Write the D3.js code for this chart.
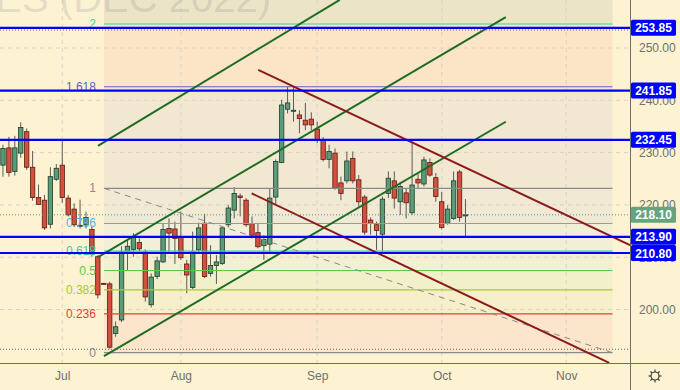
<!DOCTYPE html>
<html>
<head>
<meta charset="utf-8">
<script src="https://cdn.jsdelivr.net/npm/d3@7"></script>
<style>
  body { margin: 0; background: #fdf3d3; }
  svg text { font-family: "Liberation Sans", Arial, sans-serif; }
</style>
</head>
<body>
<svg id="chart" width="680" height="390"></svg>
<script>
// bar index 0 = Jul 1 (trading days), first bar = Jun 16
var firstIndex = -10;
var opens  = [227.6,230.9,226.4,229.9,234.0,227.2,221.4,220.9,216.3,224.9,
              227.6,221.3,219.2,216.0,216.2,215.3,210.1,205.0,204.9,195.4,
              198.0,210.9,211.5,212.8,211.0,200.9,206.3,209.1,215.5,215.4,
              213.9,208.7,204.2,211.4,216.5,206.9,208.4,208.8,216.2,219.0,
              221.7,220.9,216.4,214.7,212.2,212.5,221.5,228.1,238.3,237.9,
              237.2,236.2,236.4,234.5,232.4,228.7,229.9,224.2,224.6,228.9,
              224.8,221.5,217.1,216.2,214.4,222.2,224.6,220.6,222.3,218.5,
              224.9,224.0,228.1,225.2,220.6,216.5,217.4,226.3,217.9];
var highs  = [231.5,233.0,233.2,235.8,234.6,230.3,223.9,221.9,227.2,227.8,
              232.2,221.9,220.3,221.0,218.7,216.0,210.4,205.1,205.3,197.7,
              212.1,213.3,214.6,213.6,211.5,206.9,210.1,216.4,217.4,216.8,
              218.7,209.5,214.9,216.6,218.3,212.3,210.4,215.7,220.0,223.4,
              222.2,221.3,217.8,216.5,214.2,223.2,228.7,240.1,242.6,242.6,
              238.1,239.5,237.7,235.9,233.0,231.5,230.8,225.4,230.2,230.2,
              225.7,221.9,217.6,216.8,221.6,226.4,226.4,224.4,223.2,232.1,
              226.0,229.2,228.9,226.1,222.5,220.0,226.4,226.7,221.1];
var lows   = [225.4,225.4,225.6,229.0,226.7,220.8,220.0,215.2,215.5,224.6,
              220.4,217.8,215.8,215.5,215.5,210.1,202.1,204.8,192.5,194.8,
              197.6,207.5,210.1,210.8,201.5,200.4,205.8,208.9,210.9,208.7,
              209.5,203.1,203.9,211.0,206.0,206.3,204.9,208.5,215.7,217.4,
              217.8,215.8,213.6,211.7,209.5,211.0,220.2,228.0,237.5,235.9,
              233.7,234.3,234.3,231.8,228.3,227.0,222.9,220.9,224.1,224.1,
              219.7,214.3,214.3,211.4,211.0,221.3,219.3,218.1,217.4,218.1,
              223.2,223.5,225.4,220.6,215.3,216.2,217.1,216.8,213.9];
var closes = [230.8,226.2,230.9,234.8,227.2,221.4,220.1,215.6,225.4,227.0,
              221.4,218.1,216.2,216.1,217.6,210.6,202.8,204.9,192.8,196.7,
              211.0,212.1,213.9,211.6,202.4,206.2,209.3,215.3,214.6,213.6,
              209.9,206.6,211.0,215.6,206.3,208.4,209.1,215.6,219.4,222.2,
              221.4,216.2,214.2,212.0,213.4,221.3,228.3,239.1,239.5,238.1,
              236.5,235.3,235.3,232.5,228.7,230.2,223.2,222.2,228.4,224.6,
              220.6,214.8,216.5,215.1,221.1,225.1,221.3,223.5,220.4,223.8,
              224.2,228.6,225.7,221.6,215.7,219.2,224.6,217.6,218.1];

var monthTicks  = [0, 20, 43, 64, 85];
var monthLabels = ["Jul", "Aug", "Sep", "Oct", "Nov"];
var priceTicks  = [200, 210, 220, 230, 240, 250];

var levelPrices = [253.85, 241.85, 232.45, 213.90, 210.80];
var lastPrice = 218.10;
var dottedPrices = [253.44, 192.4];

// fib retracement: anchor 1 -> anchor 0
var fibLevels = [0, 0.236, 0.382, 0.5, 0.618, 0.786, 1, 1.618, 2];
var fibLabels = ["0", "0.236", "0.382", "0.5", "0.618", "0.786", "1", "1.618", "2"];
var fibStart = [7.03, 223.17];
var fibEnd   = [92.8, 191.74];

// trend lines [bar index, price]
var greenLines = [
  [[7.03, 191.1], [74.8, 235.9]],
  [[6.02, 210.0], [74.8, 255.9]],
  [[6.02, 231.3], [46.8, 259.2]]
];
var redLines = [
  [[33.05, 245.8], [95.75, 212.3]],
  [[31.94, 222.2], [92.24, 189.8]]
];

var W = 680, H = 390, plotW = 630, plotH = 363;
var svg = d3.select("#chart");

var x = d3.scaleLinear().domain([-10.5, 95.75]).range([0, plotW]);
var y = d3.scaleLinear().domain([200, 250]).range([309.5, 48]);

svg.append("rect").attr("width", W).attr("height", H).attr("fill", "#fdf3d3");

svg.append("clipPath").attr("id", "plot")
  .append("rect").attr("width", plotW).attr("height", plotH);

var plot = svg.append("g").attr("clip-path", "url(#plot)");

// fib bands
var fibColors = ["#8a8a8a", "#e0413a", "#a8c83a", "#5cc94a", "#2fcf9e", "#4fb3e8", "#8a8a8a", "#5c60c9", "#3ccf9a"];
var bandFills = ["#fbe6cb", "#f6efca", "#f2f0cb", "#f3f0d2", "#f1efd7", "#f1e9d3", "#f2e8d2", "#fbe5c6", "#ece4c7"];
var fibPrice = function (lv) { return fibEnd[1] + lv * (fibStart[1] - fibEnd[1]); };
var bandLevels = fibLevels.concat([2.618]);

var fx0 = x(fibStart[0]), fx1 = x(fibEnd[0]);
for (var k = 0; k < fibLevels.length; k++) {
  var yTop = y(fibPrice(bandLevels[k + 1])), yBot = y(fibPrice(bandLevels[k]));
  plot.append("rect")
    .attr("x", fx0).attr("width", fx1 - fx0)
    .attr("y", yTop).attr("height", yBot - yTop)
    .attr("fill", bandFills[k]);
}

// grid
plot.append("g").selectAll("line").data(priceTicks).enter().append("line")
  .attr("x1", 0).attr("x2", plotW)
  .attr("y1", function (d) { return y(d); }).attr("y2", function (d) { return y(d); })
  .attr("stroke", "#d9d5c6").attr("stroke-dasharray", "4,4");
plot.append("g").selectAll("line").data(monthTicks).enter().append("line")
  .attr("y1", 0).attr("y2", plotH)
  .attr("x1", function (d) { return x(d); }).attr("x2", function (d) { return x(d); })
  .attr("stroke", "#d9d5c6").attr("stroke-dasharray", "4,4");

// watermark
plot.append("text")
  .attr("x", 271).attr("y", 12)
  .attr("text-anchor", "end")
  .attr("font-size", 40)
  .attr("fill", "#787b86").attr("fill-opacity", 0.2)
  .text("COFFEE C FUTURES (DEC 2022)");

// candles
var bars = d3.range(opens.length).map(function (i) {
  return { i: firstIndex + i, o: opens[i], h: highs[i], l: lows[i], c: closes[i] };
});
var bw = 4.4;
var cg = plot.append("g");
cg.selectAll("line").data(bars).enter().append("line")
  .attr("x1", function (d) { return x(d.i); }).attr("x2", function (d) { return x(d.i); })
  .attr("y1", function (d) { return y(d.h); }).attr("y2", function (d) { return y(d.l); })
  .attr("stroke", "#5a5a5a").attr("stroke-width", 1);
cg.selectAll("rect").data(bars).enter().append("rect")
  .attr("x", function (d) { return x(d.i) - bw / 2; })
  .attr("width", bw)
  .attr("y", function (d) { return y(Math.max(d.o, d.c)); })
  .attr("height", function (d) { return Math.max(1, Math.abs(y(d.o) - y(d.c))); })
  .attr("fill", function (d) { return d.c >= d.o ? "#5b9c78" : "#d4503d"; })
  .attr("stroke", function (d) { return d.c >= d.o ? "#1e3d2c" : "#5a1b12"; })
  .attr("stroke-width", 0.8);

// fib level lines + labels
var fg = plot.append("g");
fibLevels.forEach(function (lv, k) {
  var yy = y(fibPrice(lv));
  fg.append("line")
    .attr("x1", fx0).attr("x2", fx1).attr("y1", yy).attr("y2", yy)
    .attr("stroke", k === 8 ? "#8fe0ad" : fibColors[k])
    .attr("stroke-width", k === 8 ? 2 : 1.2);
  fg.append("text")
    .attr("x", fx0 - 8).attr("y", yy + 4)
    .attr("text-anchor", "end").attr("font-size", 12)
    .attr("fill", fibColors[k])
    .text(fibLabels[k]);
});

var line = d3.line().x(function (d) { return x(d[0]); }).y(function (d) { return y(d[1]); });

plot.append("path").attr("d", line([fibStart, fibEnd]))
  .attr("fill", "none").attr("stroke", "#8a8a8a").attr("stroke-width", 1)
  .attr("stroke-dasharray", "6,5");

greenLines.forEach(function (l) {
  plot.append("path").attr("d", line(l))
    .attr("fill", "none").attr("stroke", "#1e6b22").attr("stroke-width", 2);
});
redLines.forEach(function (l) {
  plot.append("path").attr("d", line(l))
    .attr("fill", "none").attr("stroke", "#8b1a1a").attr("stroke-width", 2);
});

// dotted price lines
dottedPrices.forEach(function (p) {
  plot.append("line").attr("x1", 0).attr("x2", plotW).attr("y1", y(p)).attr("y2", y(p))
    .attr("stroke", "#666").attr("stroke-width", 1).attr("stroke-dasharray", "1,2");
});
plot.append("line").attr("x1", 0).attr("x2", plotW).attr("y1", y(lastPrice)).attr("y2", y(lastPrice))
  .attr("stroke", "#4f9a70").attr("stroke-width", 1).attr("stroke-dasharray", "1,2");

// horizontal levels
plot.selectAll(".lvl").data(levelPrices).enter().append("line")
  .attr("x1", 0).attr("x2", plotW)
  .attr("y1", function (d) { return y(d); }).attr("y2", function (d) { return y(d); })
  .attr("stroke", "#0000ff").attr("stroke-width", 2.2);

// axes
svg.append("line").attr("x1", plotW + 0.5).attr("x2", plotW + 0.5).attr("y1", 0).attr("y2", H)
  .attr("stroke", "#6e6e6e");
svg.append("line").attr("x1", 0).attr("x2", W).attr("y1", plotH + 0.5).attr("y2", plotH + 0.5)
  .attr("stroke", "#6e6e6e");

var yAxis = svg.append("g").attr("transform", "translate(" + plotW + ",0)")
  .call(d3.axisRight(y).tickValues(priceTicks).tickSize(0).tickPadding(9).tickFormat(d3.format(".2f")));
yAxis.select(".domain").remove();
yAxis.selectAll("text").attr("font-size", 12).attr("fill", "#6f6f6f")
  .style("font-family", "Liberation Sans, Arial, sans-serif");

var xAxis = svg.append("g").attr("transform", "translate(0," + plotH + ")")
  .call(d3.axisBottom(x).tickValues(monthTicks).tickSize(0).tickPadding(8)
    .tickFormat(function (d, i) { return monthLabels[i]; }));
xAxis.select(".domain").remove();
xAxis.selectAll("text").attr("font-size", 12).attr("fill", "#6f6f6f")
  .style("font-family", "Liberation Sans, Arial, sans-serif");

// price labels
function priceTag(p, fill) {
  var yy = y(p);
  svg.append("rect").attr("x", plotW + 1).attr("y", yy - 8).attr("width", 45).attr("height", 16)
    .attr("rx", 1.5).attr("fill", fill);
  svg.append("text").attr("x", plotW + 23.5).attr("y", yy + 4.5)
    .attr("text-anchor", "middle").attr("font-size", 12).attr("font-weight", "bold")
    .attr("fill", "#ffffff").text(d3.format(".2f")(p));
}
levelPrices.forEach(function (p) { priceTag(p, "#0000ff"); });
priceTag(lastPrice, "#66a47f");

// settings gear
var gear = svg.append("g").attr("transform", "translate(655,376)")
  .attr("stroke", "#333").attr("fill", "none").attr("stroke-width", 1.1);
gear.append("circle").attr("r", 4);
d3.range(8).forEach(function (k) {
  var a = k * Math.PI / 4;
  gear.append("line")
    .attr("x1", Math.cos(a) * 4).attr("y1", Math.sin(a) * 4)
    .attr("x2", Math.cos(a) * 6.5).attr("y2", Math.sin(a) * 6.5);
});
</script>
</body>
</html>
